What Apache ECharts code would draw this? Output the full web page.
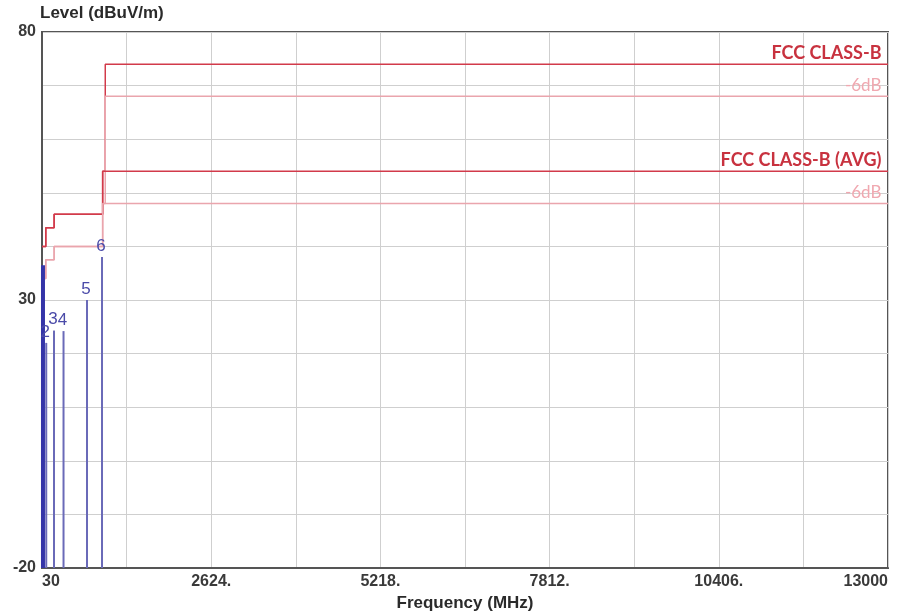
<!DOCTYPE html>
<html>
<head>
<meta charset="utf-8">
<script src="https://cdn.jsdelivr.net/npm/echarts@6/dist/echarts.min.js"></script>
<style>
html,body{margin:0;padding:0;background:#fff;}
#chart{width:906px;height:615px;}
</style>
</head>
<body>
<div id="chart"></div>
<script>
// ---- data ----
const xMin = 30, xMax = 13000;
const xTickLabels = ['30', '', '2624.', '', '5218.', '', '7812.', '', '10406.', '', '13000'];
const yTickLabels = {'80': '80', '30': '30', '-20': '-20'};

// limit lines (step: value holds until next frequency)
const limitFreq = [30, 88, 216, 960, 1000, 13000];
const fccPeak = [40, 43.5, 46, 54, 74, 74];
const fccPeak6 = [34, 37.5, 40, 48, 68, 68];
const fccAvgFreq = [30, 88, 216, 960, 13000];
const fccAvg = [40, 43.5, 46, 54, 54];
const fccAvg6 = [34, 37.5, 40, 48, 48];

// measured markers
const markerNames = ['1', '2', '3', '4', '5', '6'];
const markerFreq = [45, 95, 214, 360, 720, 950];
const markerLevel = [36.5, 22, 24.3, 24.2, 30, 38];

// ---- chart ----
const off = xMin; // axis counts from 0 so ticks land at 30 + k*1297
const sx = f => f - off;
const font = 'Liberation Sans, Arial, sans-serif';

function stepData(fr, lv) { return fr.map((f, i) => [sx(f), lv[i]]); }

function limitSeries(name, fr, lv, color, width, labelText, labelStyle) {
  const data = stepData(fr, lv);
  const last = data.length - 1;
  data[last] = {value: data[last], label: Object.assign({
    show: true, formatter: labelText, position: 'left', distance: 6,
    offset: [0, -11], align: 'right'
  }, labelStyle)};
  return {
    name, type: 'line', step: 'end', data, silent: true,
    symbol: 'circle', symbolSize: 1, showSymbol: true, showAllSymbol: true,
    itemStyle: {color: 'rgba(0,0,0,0)'},
    label: {show: false},
    lineStyle: {color, width}, z: 3
  };
}

const series = [
  limitSeries('FCC CLASS-B', limitFreq, fccPeak, '#d23a4a', 1.5, 'FCC CLASS-B',
    {color: '#c8323f', fontFamily: 'Lato', fontWeight: 'bold', fontSize: 18}),
  limitSeries('FCC CLASS-B -6dB', limitFreq, fccPeak6, '#eaa5ad', 1.5, '-6dB',
    {color: '#f0a8b0', fontFamily: 'Lato', fontWeight: 'normal', fontSize: 17}),
  limitSeries('FCC CLASS-B (AVG)', fccAvgFreq, fccAvg, '#d23a4a', 1.5, 'FCC CLASS-B (AVG)',
    {color: '#c8323f', fontFamily: 'Lato', fontWeight: 'bold', fontSize: 18}),
  limitSeries('FCC CLASS-B (AVG) -6dB', fccAvgFreq, fccAvg6, '#eaa5ad', 1.5, '-6dB',
    {color: '#f0a8b0', fontFamily: 'Lato', fontWeight: 'normal', fontSize: 17})
];

markerNames.forEach((n, i) => {
  const first = i === 0;
  series.push({
    name: 'M' + n, type: 'line', silent: true, z: 4,
    symbol: 'circle', symbolSize: 1, showSymbol: true, showAllSymbol: true,
    itemStyle: {color: 'rgba(0,0,0,0)'},
    lineStyle: {color: first ? '#3434a8' : '#6a6ab8', width: first ? 4 : 2},
    label: {show: false},
    data: [
      [sx(markerFreq[i]), -20],
      {value: [sx(markerFreq[i]), markerLevel[i]], label: {
        show: !first, formatter: n, position: 'top', distance: 2, offset: [-1, 0],
        color: '#4a4aa8', fontSize: 17, fontFamily: font
      }}
    ]
  });
});

const chart = echarts.init(document.getElementById('chart'), null, {renderer: 'canvas'});
chart.setOption({
  animation: false,
  backgroundColor: '#ffffff',
  grid: {left: 42, right: 18, top: 32, bottom: 47, show: true, outerBoundsMode: 'none', containLabel: false,
    borderColor: '#555', borderWidth: 2, backgroundColor: 'transparent'},
  xAxis: {
    type: 'value', min: 0, max: xMax - xMin, interval: (xMax - xMin) / 10,
    name: 'Frequency (MHz)', nameLocation: 'middle', nameGap: 27,
    nameTextStyle: {fontFamily: font, fontSize: 17, color: '#2a2a2a', fontWeight: 'bold'},
    axisLine: {show: true, onZero: false, lineStyle: {color: '#555', width: 2}},
    axisTick: {show: false},
    splitLine: {show: true, lineStyle: {color: '#cfcfcf', width: 1}},
    axisLabel: {
      fontFamily: font, fontSize: 16, color: '#3a3a3a', fontWeight: 'bold', margin: 6,
      alignMinLabel: 'left', alignMaxLabel: 'right',
      formatter: v => xTickLabels[Math.round(v / ((xMax - xMin) / 10))] || ''
    }
  },
  yAxis: {
    type: 'value', min: -20, max: 80, interval: 10,
    name: 'Level (dBuV/m)', nameLocation: 'end', nameGap: 10,
    nameTextStyle: {fontFamily: font, fontSize: 17, color: '#2a2a2a', fontWeight: 'bold', align: 'left', padding: [0, 0, 0, -2]},
    axisLine: {show: true, onZero: false, lineStyle: {color: '#555', width: 2}},
    axisTick: {show: false},
    splitLine: {show: true, lineStyle: {color: '#cfcfcf', width: 1}},
    axisLabel: {
      fontFamily: font, fontSize: 16, color: '#3a3a3a', fontWeight: 'bold', margin: 6,
      formatter: v => yTickLabels[String(v)] || ''
    }
  },
  series
});
</script>
</body>
</html>
